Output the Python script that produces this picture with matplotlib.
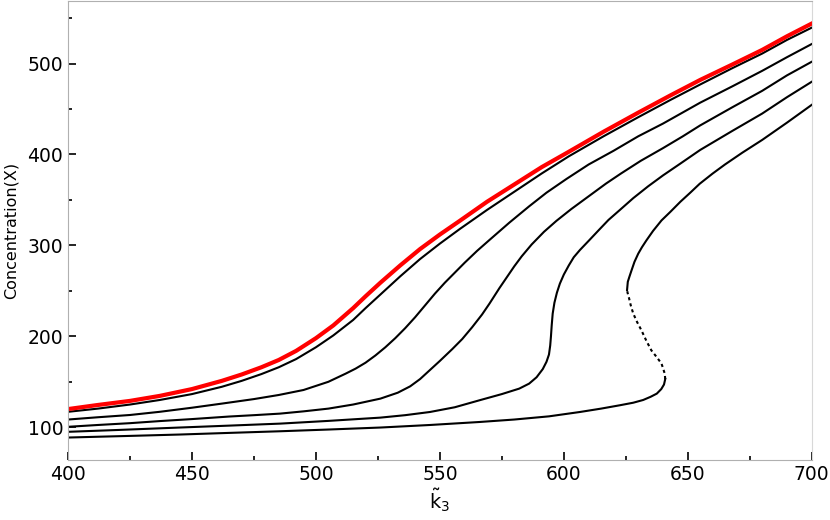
import matplotlib
matplotlib.use('Agg')
import matplotlib.pyplot as plt
from matplotlib.ticker import MultipleLocator

# Values (x = k3, y = concentration of X)
red_x = [400, 412, 425, 437, 450, 462, 470, 478, 485, 492, 500, 507, 515, 520, 526, 534, 542, 550, 558,
         569, 580, 591, 602, 616, 630, 643, 655, 668, 680, 690, 700]
red_y = [120, 124.5, 129, 134.5, 142, 151, 158, 166, 174, 184, 198, 212, 231, 244, 259, 278, 296, 312, 327,
         348, 367, 386, 403, 425, 446, 465, 482, 499, 515, 530, 544]

b1_x = [400, 412, 425, 437, 450, 462, 470, 478, 485, 492, 500, 507, 515, 520, 526, 534, 542, 550, 558,
        569, 580, 591, 602, 616, 630, 643, 655, 668, 680, 690, 700]
b1_y = [117, 120.5, 125, 130, 136.5, 144.5, 151, 158.5, 166, 175, 188, 201, 218, 231, 246, 266, 285, 302, 318,
        339, 359, 379, 398, 420, 441, 460, 477, 495, 511, 526, 539.5]

b2_x = [400, 412, 425, 437, 450, 462, 475, 485, 495, 505, 512, 516, 520, 524, 528, 532, 536, 540,
        544, 548, 552, 556, 560, 565, 570, 578, 586, 593, 601, 610, 620, 630, 640, 655, 668, 680,
        690, 700]
b2_y = [108.5, 111, 113.5, 117, 121.5, 126, 131, 135.5, 141, 150, 159, 164.5, 171, 179, 188, 198, 209, 221,
        234, 247, 259, 270, 281, 294, 306, 325, 343, 358, 373, 389, 404, 420, 434, 457, 475, 492,
        507, 521.5]

b3_x = [400, 412, 425, 437, 450, 465, 475, 485.5, 495, 505, 515, 526, 533, 538, 542, 546, 550, 555,
        559, 563, 567, 570, 574, 577, 580, 583, 587, 592, 597, 603, 610, 617, 623, 631, 640, 648,
        655, 668, 680, 690, 700]
b3_y = [100.5, 102.5, 104.5, 106.8, 109, 111.8, 113.3, 115, 117.5, 120.5, 125, 131.5, 138, 145, 153, 163, 173, 186,
        197, 210, 224, 236, 253, 265, 277, 288, 301, 315, 327, 340, 354, 368, 379, 393, 407, 420,
        432, 452, 470, 487, 502]

b4_x = [400, 420, 445, 465, 485.5, 505, 526, 536, 546, 556, 566, 575, 582, 586, 589, 591.5, 593, 594,
        594.5, 594.8, 595.1, 595.5, 596.2, 597.2, 598.4, 600, 602, 604, 606.5, 610, 614.5, 618, 622.6,
        628, 634, 640, 647, 655, 668, 680, 690, 700]
b4_y = [95, 97, 99.7, 101.8, 104, 107, 110.6, 113.3, 116.8, 122, 129.7, 136.5, 142.5, 148, 155, 164, 172, 180,
        190, 200, 212, 225, 237, 248, 258, 268, 278, 287, 295, 305, 318, 328, 339,
        352, 365, 377, 390, 405, 426, 445, 463, 480]

# last curve folds back: lower stable branch, unstable branch (dashed), upper stable branch
b5_low_x = [400, 425, 445, 465, 485.5, 505, 526, 546, 566, 580, 594, 606.5, 615, 622.6, 628, 632,
            635, 637.5, 639.3, 640.4, 640.9]
b5_low_y = [88.7, 90.5, 92, 93.8, 95.6, 97.5, 99.7, 102.5, 105.8, 108.5, 112, 116.8, 120.5, 124.2, 127, 130,
            133.5, 137, 142, 147, 153]
b5_mid_x = [640.9, 640.7, 640, 639.4, 637.5, 635.3, 633.3, 631.3, 629.5, 628, 627, 626.3, 625.7, 625.5]
b5_mid_y = [153, 159, 165, 170, 177, 184.6, 195, 206.6, 216, 225, 234, 242, 248, 251]
b5_up_x = [625.5, 625.8, 626.5, 627.3, 628.5, 630, 631.5, 633.3, 636, 639.4, 643, 647, 651, 654.8,
           660, 665, 672, 680, 690, 700]
b5_up_y = [251, 260, 266, 272.5, 282, 290.9, 298, 305.5, 316, 327.5, 337, 348, 358, 367.8,
           379, 389, 402, 416, 435, 454.6]

fig = plt.figure(figsize=(8.3, 5.2), dpi=100)
ax = fig.add_axes([0.082, 0.1154, 0.896, 0.883])

lw = 1.5
ax.plot(b1_x, b1_y, color='black', lw=lw)
ax.plot(b2_x, b2_y, color='black', lw=lw)
ax.plot(b3_x, b3_y, color='black', lw=lw)
ax.plot(b4_x, b4_y, color='black', lw=lw)
ax.plot(b5_low_x, b5_low_y, color='black', lw=lw)
ax.plot(b5_mid_x, b5_mid_y, color='black', lw=lw, linestyle=(0, (1.5, 1.5)))
ax.plot(b5_up_x, b5_up_y, color='black', lw=lw)
ax.plot(red_x, red_y, color='red', lw=3)

ax.set_xlim(400, 700)
ax.set_ylim(64, 569)
ax.xaxis.set_major_locator(MultipleLocator(50))
ax.xaxis.set_minor_locator(MultipleLocator(25))
ax.yaxis.set_major_locator(MultipleLocator(100))
ax.yaxis.set_minor_locator(MultipleLocator(50))
ax.tick_params(which='both', direction='in', top=False, right=False, labelsize=13.5)
ax.tick_params(which='major', length=6, width=1.2)
ax.tick_params(which='minor', length=3, width=1.2)
for s in ax.spines.values():
    s.set_color('#b0b0b0')
ax.spines['right'].set_color('#d8d8d8')

ax.set_xlabel(r'$\tilde{\mathrm{k}}_3$', fontsize=14, labelpad=2)
ax.set_ylabel('Concentration(X)', fontsize=11.5, labelpad=6)

fig.savefig('out.png', dpi=100)
